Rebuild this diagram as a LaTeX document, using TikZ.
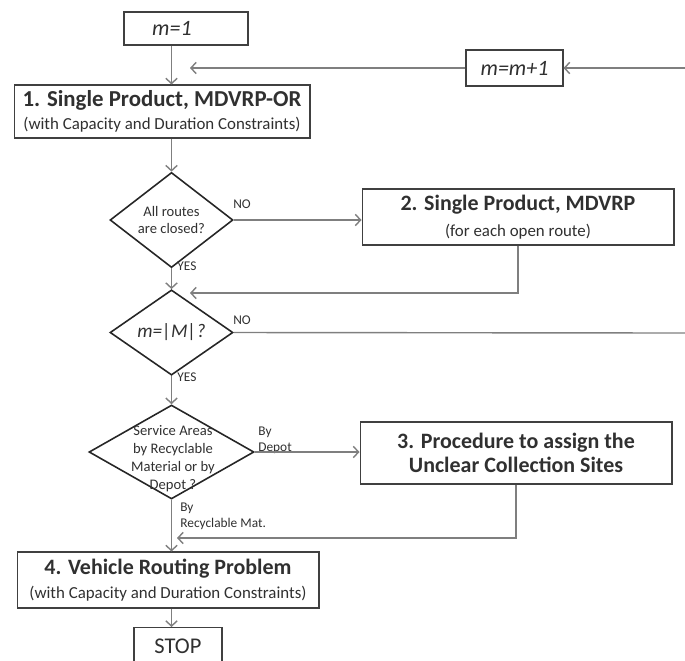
\documentclass[tikz,border=0pt]{standalone}
\usepackage{fontspec}
\setmainfont{Carlito}
\usetikzlibrary{shapes.geometric,arrows.meta}
\definecolor{boxline}{HTML}{404040}
\definecolor{connline}{HTML}{7F7F7F}
\definecolor{ink}{HTML}{303030}
\newcommand\boxhead[2]{{\fontsize{#1}{#1}\selectfont\bfseries #2}}
\newcommand\boxnote[1]{{\fontsize{9.6}{11}\selectfont #1}}
\begin{document}
\begin{tikzpicture}[x=0.02cm,y=-0.02cm,
  procbox/.style={draw=boxline, line width=0.6pt, rectangle, inner sep=0pt,
    align=center, text=ink},
  decision/.style={draw=black!85, line width=0.9pt, diamond, inner sep=0pt,
    align=center, text=ink, font=\fontsize{8.3}{10.2}\selectfont},
  conn/.style={draw=connline, line width=0.8pt},
  arr/.style={conn, -{Straight Barb[length=3pt,width=6.5pt]}},
  lbl/.style={text=ink, font=\fontsize{7.6}{9}\selectfont, inner sep=0pt,
    align=left}]
\useasboundingbox (0,0) rectangle (685,660);
\clip (0,0) rectangle (685,660);

% counters
\node[procbox, minimum width=2.48cm, minimum height=0.66cm,
  font=\fontsize{12.5}{14}\selectfont\itshape] (m1) at (186,28.5) {m=1\hspace{16pt}};
\node[procbox, minimum width=1.94cm, minimum height=0.72cm,
  font=\fontsize{12.5}{14}\selectfont\itshape] (mp1) at (514.5,68) {m=m+1};

% processing steps
\node[procbox, minimum width=5.92cm, minimum height=1.06cm] (b1) at (162,111.5)
  {\boxhead{13}{1. Single Product, MDVRP-OR}\\[1pt]
   \boxnote{(with Capacity and Duration Constraints)}};
\node[procbox, minimum width=6.24cm, minimum height=1.12cm] (b2) at (518,217)
  {\boxhead{12.5}{2. Single Product, MDVRP}\\[3pt]
   \boxnote{(for each open route)}};
\node[procbox, minimum width=6.24cm, minimum height=1.24cm] (b3) at (516,453)
  {\boxhead{12.5}{3. Procedure to assign the}\\[2pt]
   \boxhead{12.5}{Unclear Collection Sites}};
\node[procbox, minimum width=6.04cm, minimum height=1.12cm] (b4) at (168,580)
  {\boxhead{12.5}{4. Vehicle Routing Problem}\\[2pt]
   \boxnote{(with Capacity and Duration Constraints)}};
\node[procbox, minimum width=1.76cm, minimum height=0.74cm,
  font=\fontsize{12.8}{14}\selectfont, anchor=north] (stop) at (178,627) {STOP};

% decisions
\node[decision, minimum width=2.46cm, minimum height=1.52cm] (d1) at (171.5,220)
  {All routes\\are closed?};
\node[decision, minimum width=2.46cm, minimum height=1.50cm,
  font=\fontsize{11}{12}\selectfont\itshape] (d2) at (171.5,332.5) {m=|M|?};
\node[decision, minimum width=3.30cm, minimum height=1.88cm] (d3) at (171.5,452)
  {};
\node[text=ink, font=\fontsize{8.3}{10.2}\selectfont, align=center, inner sep=0pt]
  (d3text) at (173,459) {Service Areas\\by Recyclable\\Material or by\\Depot ?};

% branch labels
\node[lbl] (no1) at (242,204) {NO};
\node[lbl] (yes1) at (187,266) {YES};
\node[lbl] (no2) at (242,320) {NO};
\node[lbl] (yes2) at (187,377) {YES};
\node[lbl, anchor=west] (bydepot) at (258,440) {By\\Depot};
\node[lbl, anchor=west] (bymat) at (180,516) {By\\Recyclable Mat.};

% free ends of connectors
\coordinate (join1) at (190,68);
\coordinate (join2) at (190,293);
\coordinate (join3) at (177,538);
\coordinate (edgeno) at (685,333);
\coordinate (edgein) at (685,68);

% main flow
\draw[arr] (m1.south -| d1) -- (b1.north -| d1);
\draw[arr] (b1.south -| d1) -- (d1.north);
\draw[arr] (d1.south) -- (d2.north);
\draw[arr] (d2.south) -- (d3.north);
\draw[arr] (d3.south) -- (b4.north -| d3);
\draw[arr] (b4.south -| d3) -- (stop.north -| d3);

% side branches
\draw[arr] (d1.east) -- (d1.east -| b2.west);
\draw[arr] (b2.south) -- (b2.south |- join2) -- (join2);
\draw[conn] (d2.east) -- (edgeno);
\draw[arr] (edgein) -- (mp1.east);
\draw[arr] (mp1.west) -- (join1);
\draw[arr] (d3.east) -- (d3.east -| b3.west);
\draw[arr] (b3.south) -- (b3.south |- join3) -- (join3);
\end{tikzpicture}
\end{document}
